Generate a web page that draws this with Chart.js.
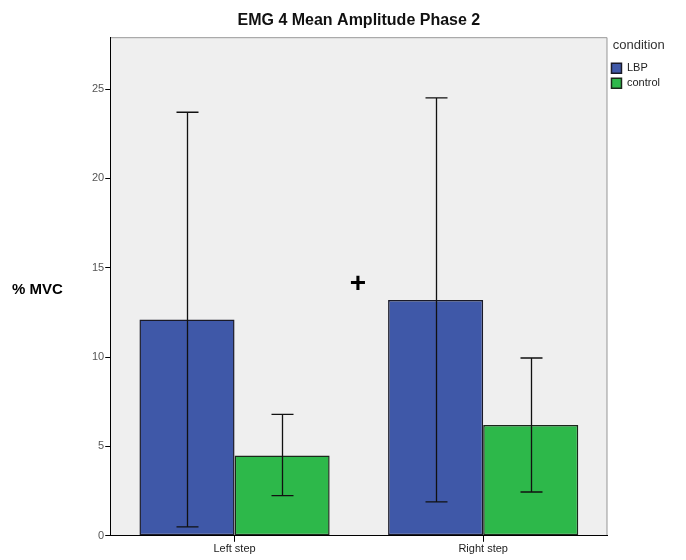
<!DOCTYPE html>
<html>
<head>
<meta charset="utf-8">
<script src="https://cdn.jsdelivr.net/npm/chart.js@4.4.1/dist/chart.umd.min.js"></script>
<style>
  html, body { margin: 0; padding: 0; background: #fff; }
  #wrap { width: 686px; height: 560px; }
</style>
</head>
<body>
<div id="wrap"><canvas id="emg-chart" width="686" height="560"></canvas></div>
<script>
// values
const steps = ['Left step', 'Right step'];
const lbpMean = [12.1, 13.2];
const lbpLow = [0.5, 1.9];
const lbpHigh = [23.7, 24.5];
const controlMean = [4.5, 6.2];
const controlLow = [2.25, 2.45];
const controlHigh = [6.8, 9.95];
const yTicks = [0, 5, 10, 15, 20, 25];
const yMax = 27.9;

const font = '"Liberation Sans", Arial, sans-serif';

// grey panel behind the bars
const panelBg = {
  id: 'panelBg',
  beforeDraw(chart) {
    const { ctx, chartArea: a } = chart;
    ctx.save();
    ctx.fillStyle = '#efefef';
    ctx.fillRect(a.left, a.top, a.right - a.left, a.bottom - a.top);
    ctx.strokeStyle = '#9a9a9a';
    ctx.lineWidth = 1;
    ctx.beginPath();
    ctx.moveTo(a.left, a.top + 0.5);
    ctx.lineTo(a.right - 0.5, a.top + 0.5);
    ctx.lineTo(a.right - 0.5, a.bottom);
    ctx.stroke();
    ctx.restore();
  }
};

// error bars + the extra texts
const extras = {
  id: 'extras',
  afterDatasetsDraw(chart) {
    const { ctx, scales } = chart;
    const y = scales.y;
    const lows = [lbpLow, controlLow];
    const highs = [lbpHigh, controlHigh];
    ctx.save();
    ctx.strokeStyle = '#111';
    ctx.lineWidth = 1.3;
    chart.data.datasets.forEach((ds, di) => {
      const meta = chart.getDatasetMeta(di);
      meta.data.forEach((bar, i) => {
        const x = Math.round(bar.x) + 0.5;
        const yl = y.getPixelForValue(lows[di][i]);
        const yh = y.getPixelForValue(highs[di][i]);
        ctx.beginPath();
        ctx.moveTo(x, yl);
        ctx.lineTo(x, yh);
        ctx.moveTo(x - 11, yl);
        ctx.lineTo(x + 11, yl);
        ctx.moveTo(x - 11, yh);
        ctx.lineTo(x + 11, yh);
        ctx.stroke();
      });
    });
    ctx.fillStyle = '#000';
    ctx.font = 'bold 15px ' + font;
    ctx.textBaseline = 'middle';
    ctx.fillText('% MVC', 12, 290);
    ctx.font = 'bold 28px ' + font;
    ctx.textAlign = 'center';
    ctx.fillText('+', 358, 284);
    ctx.restore();
  }
};

new Chart(document.getElementById('emg-chart'), {
  type: 'bar',
  data: {
    labels: steps,
    datasets: [
      {
        label: 'LBP',
        data: lbpMean,
        backgroundColor: '#3f58a8',
        borderColor: '#1a1a28',
        borderWidth: 1.5,
        borderSkipped: false,
        categoryPercentage: 0.765,
        barPercentage: 1
      },
      {
        label: 'control',
        data: controlMean,
        backgroundColor: '#2db84a',
        borderColor: '#1a281a',
        borderWidth: 1.5,
        borderSkipped: false,
        categoryPercentage: 0.765,
        barPercentage: 1
      }
    ]
  },
  options: {
    responsive: false,
    animation: false,
    layout: { padding: { left: 91, top: 7, right: 16, bottom: 3 } },
    scales: {
      x: {
        grid: { display: true, drawOnChartArea: false, offset: false, tickLength: 6, color: '#000' },
        border: { color: '#000' },
        ticks: { color: '#222', font: { family: font, size: 11 }, padding: 1 }
      },
      y: {
        min: 0,
        max: yMax,
        afterBuildTicks(scale) {
          scale.ticks = yTicks.map(v => ({ value: v }));
        },
        grid: { drawOnChartArea: false, tickLength: 5, color: '#000' },
        border: { color: '#000' },
        ticks: {
          color: '#555',
          font: { family: font, size: 11 },
          padding: 1
        }
      }
    },
    plugins: {
      title: {
        display: true,
        text: 'EMG 4 Mean Amplitude Phase 2',
        fullSize: false,
        color: '#111',
        font: { family: font, size: 16, weight: 'bold' },
        padding: { top: 4, bottom: 7 }
      },
      legend: {
        position: 'right',
        align: 'start',
        fullSize: false,
        title: {
          display: true,
          text: 'condition',
          color: '#333',
          font: { family: font, size: 13 },
          padding: { top: 2, bottom: 4, left: 0, right: 0 }
        },
        labels: {
          boxWidth: 10,
          boxHeight: 10,
          padding: 4,
          color: '#222',
          font: { family: font, size: 11 }
        }
      },
      tooltip: { enabled: false }
    }
  },
  plugins: [panelBg, extras]
});
</script>
</body>
</html>
